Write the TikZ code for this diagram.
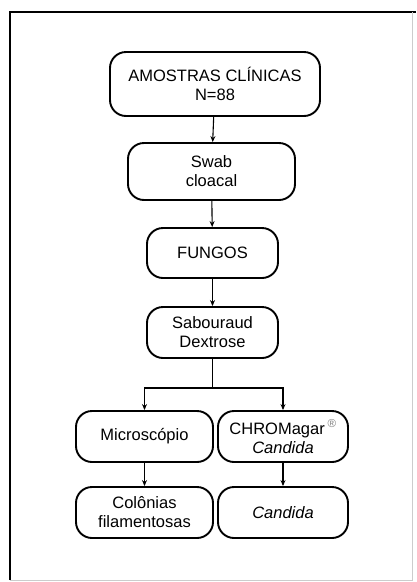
\documentclass[tikz,border=0pt]{standalone}
\usepackage{fontspec}
\setmainfont{Liberation Sans}
\usetikzlibrary{arrows.meta}

\begin{document}
\begin{tikzpicture}[x = 1pt, y = -1pt,
  etapa/.style = {draw, line width = 1.9pt, rounded corners = 16pt, align = center,
    inner sep = 0pt, font = \fontsize{16.5}{19}\selectfont},
  seta/.style = {line width = 1.1pt, -{Stealth[length = 6pt, width = 5pt]}}]
\useasboundingbox (0, 0) rectangle (416, 582);
\fill[white] (0, 0) rectangle (416, 582);

% moldura
\draw[line width = 2pt] (10, 580) -- (10, 12) -- (416, 12);
\draw[gray!40] (412, 12) -- (412, 580) -- (10, 580);

\node[etapa, minimum width = 210, minimum height = 64] (amostras) at (215, 84) {AMOSTRAS CLÍNICAS\\N=88};
\node[etapa, minimum width = 167, minimum height = 57] (swab) at (211.5, 171.5) {Swab\\cloacal};
\node[etapa, minimum width = 131, minimum height = 50] (fungos) at (212.5, 253) {FUNGOS};
\node[etapa, minimum width = 131, minimum height = 51] (sab) at (212.5, 332.5) {Sabouraud\\Dextrose};
\node[etapa, minimum width = 137, minimum height = 51] (micro) at (144.5, 436.5) {Microscópio};
\node[etapa, minimum width = 130, minimum height = 51] (chrom) at (283, 436.5) {CHROMagar\,\textsuperscript{\textcolor{gray}{®}}\\\textit{Candida}};
\node[etapa, minimum width = 137, minimum height = 51] (colonias) at (144.5, 512.5) {Colônias\\filamentosas};
\node[etapa, minimum width = 130, minimum height = 51] (candida) at (283, 512.5) {\textit{Candida}};

\draw[seta] (amostras) -- (swab);
\draw[seta] (swab) -- (fungos);
\draw[seta] (fungos) -- (sab);

\coordinate (ramo) at (212.5, 388);
\draw[line width = 1.1pt] (sab) -- (ramo);
\draw[seta] (ramo) -| (micro.north);
\draw[seta] (ramo) -| (chrom.north);

\draw[seta] (micro) -- (colonias);
\draw[seta] (chrom) -- (candida);
\end{tikzpicture}
\end{document}
